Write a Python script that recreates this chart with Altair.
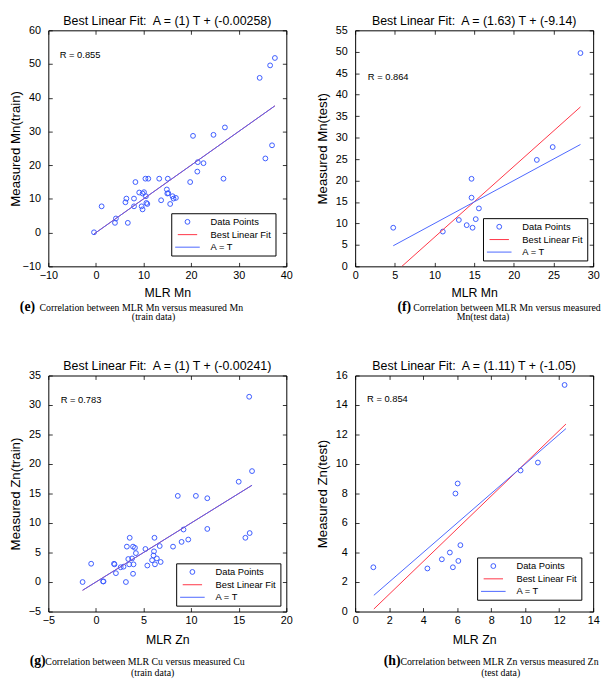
import altair as alt
import pandas as pd

SANS = "Liberation Sans"
SERIF = "Liberation Serif"
BLUE_PT = "#3b5bff"
BLUE_LN = "#4a66ff"
RED_LN = "#ff3344"
SERIES = ["Data Points", "Best Linear Fit", "A = T"]
W, H = 242, 240

# ---------------- data ----------------
# (e) Mn train
e_x = [-0.4, 1.2, 4.2, 4.0, 6.7, 6.4, 6.2, 8.0, 8.0, 8.3, 9.1, 9.8, 10.1, 9.6, 9.8, 10.6, 10.8,
       10.4, 11.0, 10.5, 13.3, 13.7, 15.1, 14.9, 15.0, 15.2, 15.6, 16.1, 16.3, 16.8, 19.8, 20.4,
       21.3, 21.4, 22.6, 24.7, 26.8, 27.1, 34.4, 35.6, 36.6, 37.0, 37.6]
e_y = [0.1, 7.8, 4.2, 2.9, 2.9, 10.1, 9.0, 10.1, 7.8, 15.0, 11.9, 11.6, 12.0, 7.8, 6.9, 8.8, 8.5,
       16.0, 16.0, 10.8, 16.0, 9.6, 16.0, 12.8, 11.6, 11.7, 8.5, 10.8, 10.1, 10.3, 15.0, 28.7,
       18.1, 20.9, 20.6, 29.0, 16.0, 31.2, 45.9, 22.0, 49.6, 25.9, 51.8]
e_fit_x = [-0.4, 37.6]
e_fit_y = [-0.4, 37.6]
e_at_x = [-0.4, 37.6]
e_at_y = [-0.4, 37.6]

# (f) Mn test
f_x = [4.8, 11.05, 13.07, 14.06, 14.67, 14.67, 14.8, 15.2, 15.6, 22.9, 24.9, 28.4]
f_y = [9.0, 8.1, 10.8, 9.6, 20.4, 16.0, 9.0, 11.0, 13.5, 24.8, 27.8, 49.7]
f_fit_x = [4.8, 28.4]
f_fit_y = [-1.8, 37.15]
f_at_x = [4.8, 28.4]
f_at_y = [4.8, 28.4]

# (g) Zn train
g_x = [-1.4, -0.5, 0.75, 0.8, 1.9, 1.95, 2.1, 2.6, 2.9, 3.15, 3.25, 3.55, 3.4, 3.5, 3.8, 3.9,
       3.9, 3.95, 4.1, 4.2, 5.2, 5.4, 5.9, 6.05, 6.1, 6.15, 6.2, 6.4, 6.7, 6.8, 8.1, 8.6, 9.0,
       9.2, 9.7, 10.5, 11.7, 11.7, 15.0, 15.7, 16.1, 16.15, 16.4]
g_y = [0.0, 3.1, 0.1, 0.1, 3.1, 3.0, 1.5, 2.5, 2.6, 0.0, 6.0, 7.5, 3.9, 3.0, 4.0, 6.0, 1.4,
       3.0, 5.8, 4.9, 5.6, 2.8, 3.7, 4.5, 5.2, 7.5, 3.0, 4.0, 6.1, 3.4, 6.0, 14.6, 6.8, 8.9,
       7.2, 14.6, 14.2, 9.0, 17.0, 7.5, 31.4, 8.3, 18.8]
g_fit_x = [-1.4, 16.4]
g_fit_y = [-1.4, 16.4]
g_at_x = [-1.4, 16.4]
g_at_y = [-1.4, 16.4]

# (h) Zn test
h_x = [1.07, 4.25, 5.1, 5.57, 5.75, 5.9, 6.03, 6.07, 6.19, 9.73, 10.75, 12.32]
h_y = [3.0, 2.92, 3.54, 4.0, 3.0, 8.0, 8.68, 3.43, 4.5, 9.56, 10.1, 15.36]
h_fit_x = [1.1, 12.4]
h_fit_y = [0.17, 12.71]
h_at_x = [1.1, 12.4]
h_at_y = [1.1, 12.4]

titles = ["Best Linear Fit:\u00a0 A = (1) T + (-0.00258)",
          "Best Linear Fit:\u00a0 A = (1.63) T + (-9.14)",
          "Best Linear Fit:\u00a0 A = (1) T + (-0.00241)",
          "Best Linear Fit:\u00a0 A = (1.11) T + (-1.05)"]
x_titles = ["MLR Mn", "MLR Mn", "MLR Zn", "MLR Zn"]
y_titles = ["Measured Mn(train)", "Measured Mn(test)", "Measured Zn(train)", "Measured Zn(test)"]
r_texts = ["R = 0.855", "R = 0.864", "R = 0.783", "R = 0.854"]
r_x = [-7.6, 1.6, -3.7, 0.7]
r_y = [52.7, 44.2, 30.9, 14.4]
cap_tags = ["(e)", "(f)", "(g)", "(h)"]
cap_line1 = ["Correlation between MLR Mn versus measured Mn",
             "Correlation between MLR Mn versus measured",
             "Correlation between MLR Cu versus measured Cu",
             "Correlation between MLR Zn versus measured Zn"]
cap_line2 = ["(train data)", "Mn(test data)", "(train data)", "(test data)"]

x_domains = [[-10, 40], [0, 30], [-5, 20], [0, 14]]
x_ticks = [[-10, 0, 10, 20, 30, 40], [0, 5, 10, 15, 20, 25, 30], [-5, 0, 5, 10, 15, 20],
           [0, 2, 4, 6, 8, 10, 12, 14]]
y_domains = [[-10, 60], [0, 55], [-5, 35], [0, 16]]
y_ticks = [[-10, 0, 10, 20, 30, 40, 50, 60], [0, 5, 10, 15, 20, 25, 30, 35, 40, 45, 50, 55],
           [-5, 0, 5, 10, 15, 20, 25, 30, 35], [0, 2, 4, 6, 8, 10, 12, 14, 16]]

# layout-only settings (pixels relative to each plot area)
legend_offsets = [11, 6, 6, 12]
cap_pos = [(-29, -9, 107, 41, 51), (43, 59, 130, 41, 51),
           (-19, -3, 106, 50, 62), (29, 46, 148, 50, 62)]
xtitle_y = [31, 31, 33, 33]

LINE_GLYPH = "M-2.5,0H2.5"


def panel(i, px, py, fx, fy, ax, ay):
    pts = pd.DataFrame({"x": px, "y": py, "s": SERIES[0]})
    fit = pd.DataFrame({"x": fx, "y": fy, "s": SERIES[1]})
    at = pd.DataFrame({"x": ax, "y": ay, "s": SERIES[2]})

    xs = alt.Scale(domain=x_domains[i], nice=False, zero=False)
    ys = alt.Scale(domain=y_domains[i], nice=False, zero=False)
    common = dict(tickSize=4, offset=-4, domain=False, grid=False, tickColor="black",
                  tickWidth=0.8, labelColor="black", labelFont=SANS, labelFontSize=11,
                  labelFlush=False, labelOverlap=False, titleFont=SANS, titleColor="black",
                  titleFontWeight="normal")
    xaxis = alt.Axis(values=x_ticks[i], title=x_titles[i], labelPadding=3, titleFontSize=12.5,
                     titleY=xtitle_y[i], titleBaseline="middle", **common)
    yaxis = alt.Axis(values=y_ticks[i], title=y_titles[i], labelPadding=8, titleFontSize=13.5,
                     titleX=-37, titleY=H / 2, titleBaseline="middle", **common)
    xaxis_top = alt.Axis(values=x_ticks[i], orient="top", labels=False, title=None, **common)
    yaxis_right = alt.Axis(values=y_ticks[i], orient="right", labels=False, title=None, **common)

    legend = alt.Legend(title=None, orient="bottom-right", offset=legend_offsets[i],
                        strokeColor="black", fillColor="white", padding=4,
                        labelFont=SANS, labelFontSize=9.5, labelColor="black",
                        symbolStrokeWidth=1, rowPadding=2, symbolOffset=7, labelOffset=18)
    color = alt.Color("s:N", scale=alt.Scale(domain=SERIES, range=[BLUE_PT, RED_LN, BLUE_LN]),
                      legend=legend)
    shape = alt.Shape("s:N", scale=alt.Scale(domain=SERIES, range=["circle", LINE_GLYPH, LINE_GLYPH]),
                      legend=legend)
    size = alt.Size("s:N", scale=alt.Scale(domain=SERIES, range=[24, 100, 100]), legend=legend)

    p_layer = alt.Chart(pts).mark_point(filled=False, strokeWidth=1, opacity=1).encode(
        x=alt.X("x:Q", scale=xs, axis=xaxis),
        y=alt.Y("y:Q", scale=ys, axis=yaxis),
        color=color, shape=shape, size=size)
    fit_layer = alt.Chart(fit).mark_line(clip=True, strokeWidth=1).encode(
        x=alt.X("x:Q", scale=xs, axis=xaxis_top),
        y=alt.Y("y:Q", scale=ys, axis=yaxis_right),
        color=color)
    at_layer = alt.Chart(at).mark_line(clip=True, strokeWidth=1).encode(
        x=alt.X("x:Q", scale=xs, axis=None),
        y=alt.Y("y:Q", scale=ys, axis=None),
        color=color)
    r_layer = alt.Chart(pd.DataFrame({"x": [r_x[i]], "y": [r_y[i]], "t": [r_texts[i]]})).mark_text(
        align="left", baseline="middle", font=SANS, fontSize=9.5, color="black").encode(
        x=alt.X("x:Q", scale=xs, axis=None),
        y=alt.Y("y:Q", scale=ys, axis=None),
        text="t:N")

    tag_dx, text_dx, l2_cx, y1, y2 = cap_pos[i]
    cap_df = pd.DataFrame({"tag": [cap_tags[i]], "l1": [cap_line1[i]], "l2": [cap_line2[i]]})
    tag_layer = alt.Chart(cap_df).mark_text(
        align="left", baseline="alphabetic", font=SERIF, fontSize=14, fontWeight="bold",
        color="black").encode(x=alt.value(tag_dx), y=alt.value(H + y1 + 4), text="tag:N")
    l1_layer = alt.Chart(cap_df).mark_text(
        align="left", baseline="alphabetic", font=SERIF, fontSize=10,
        color="black").encode(x=alt.value(text_dx), y=alt.value(H + y1 + 4), text="l1:N")
    l2_layer = alt.Chart(cap_df).mark_text(
        align="center", baseline="alphabetic", font=SERIF, fontSize=10,
        color="black").encode(x=alt.value(l2_cx), y=alt.value(H + y2 + 4), text="l2:N")

    return alt.layer(p_layer, fit_layer, at_layer, r_layer, tag_layer, l1_layer, l2_layer).resolve_axis(
        x="independent", y="independent").properties(
        width=W, height=H,
        title=alt.TitleParams(text=titles[i], font=SANS, fontSize=12.6, fontWeight="normal",
                              color="black", offset=-3, anchor="middle", frame="group"))


panels = [
    panel(0, e_x, e_y, e_fit_x, e_fit_y, e_at_x, e_at_y),
    panel(1, f_x, f_y, f_fit_x, f_fit_y, f_at_x, f_at_y),
    panel(2, g_x, g_y, g_fit_x, g_fit_y, g_at_x, g_at_y),
    panel(3, h_x, h_y, h_fit_x, h_fit_y, h_at_x, h_at_y),
]

chart = alt.concat(*panels, columns=2, spacing=alt.RowColnumber(row=36, column=22)).resolve_scale(
    color="independent", shape="independent", size="independent").properties(
    padding=0, background="white").configure_view(stroke="black", strokeWidth=1)

chart.save("out.html", embed_options={"renderer": "svg", "actions": False})
